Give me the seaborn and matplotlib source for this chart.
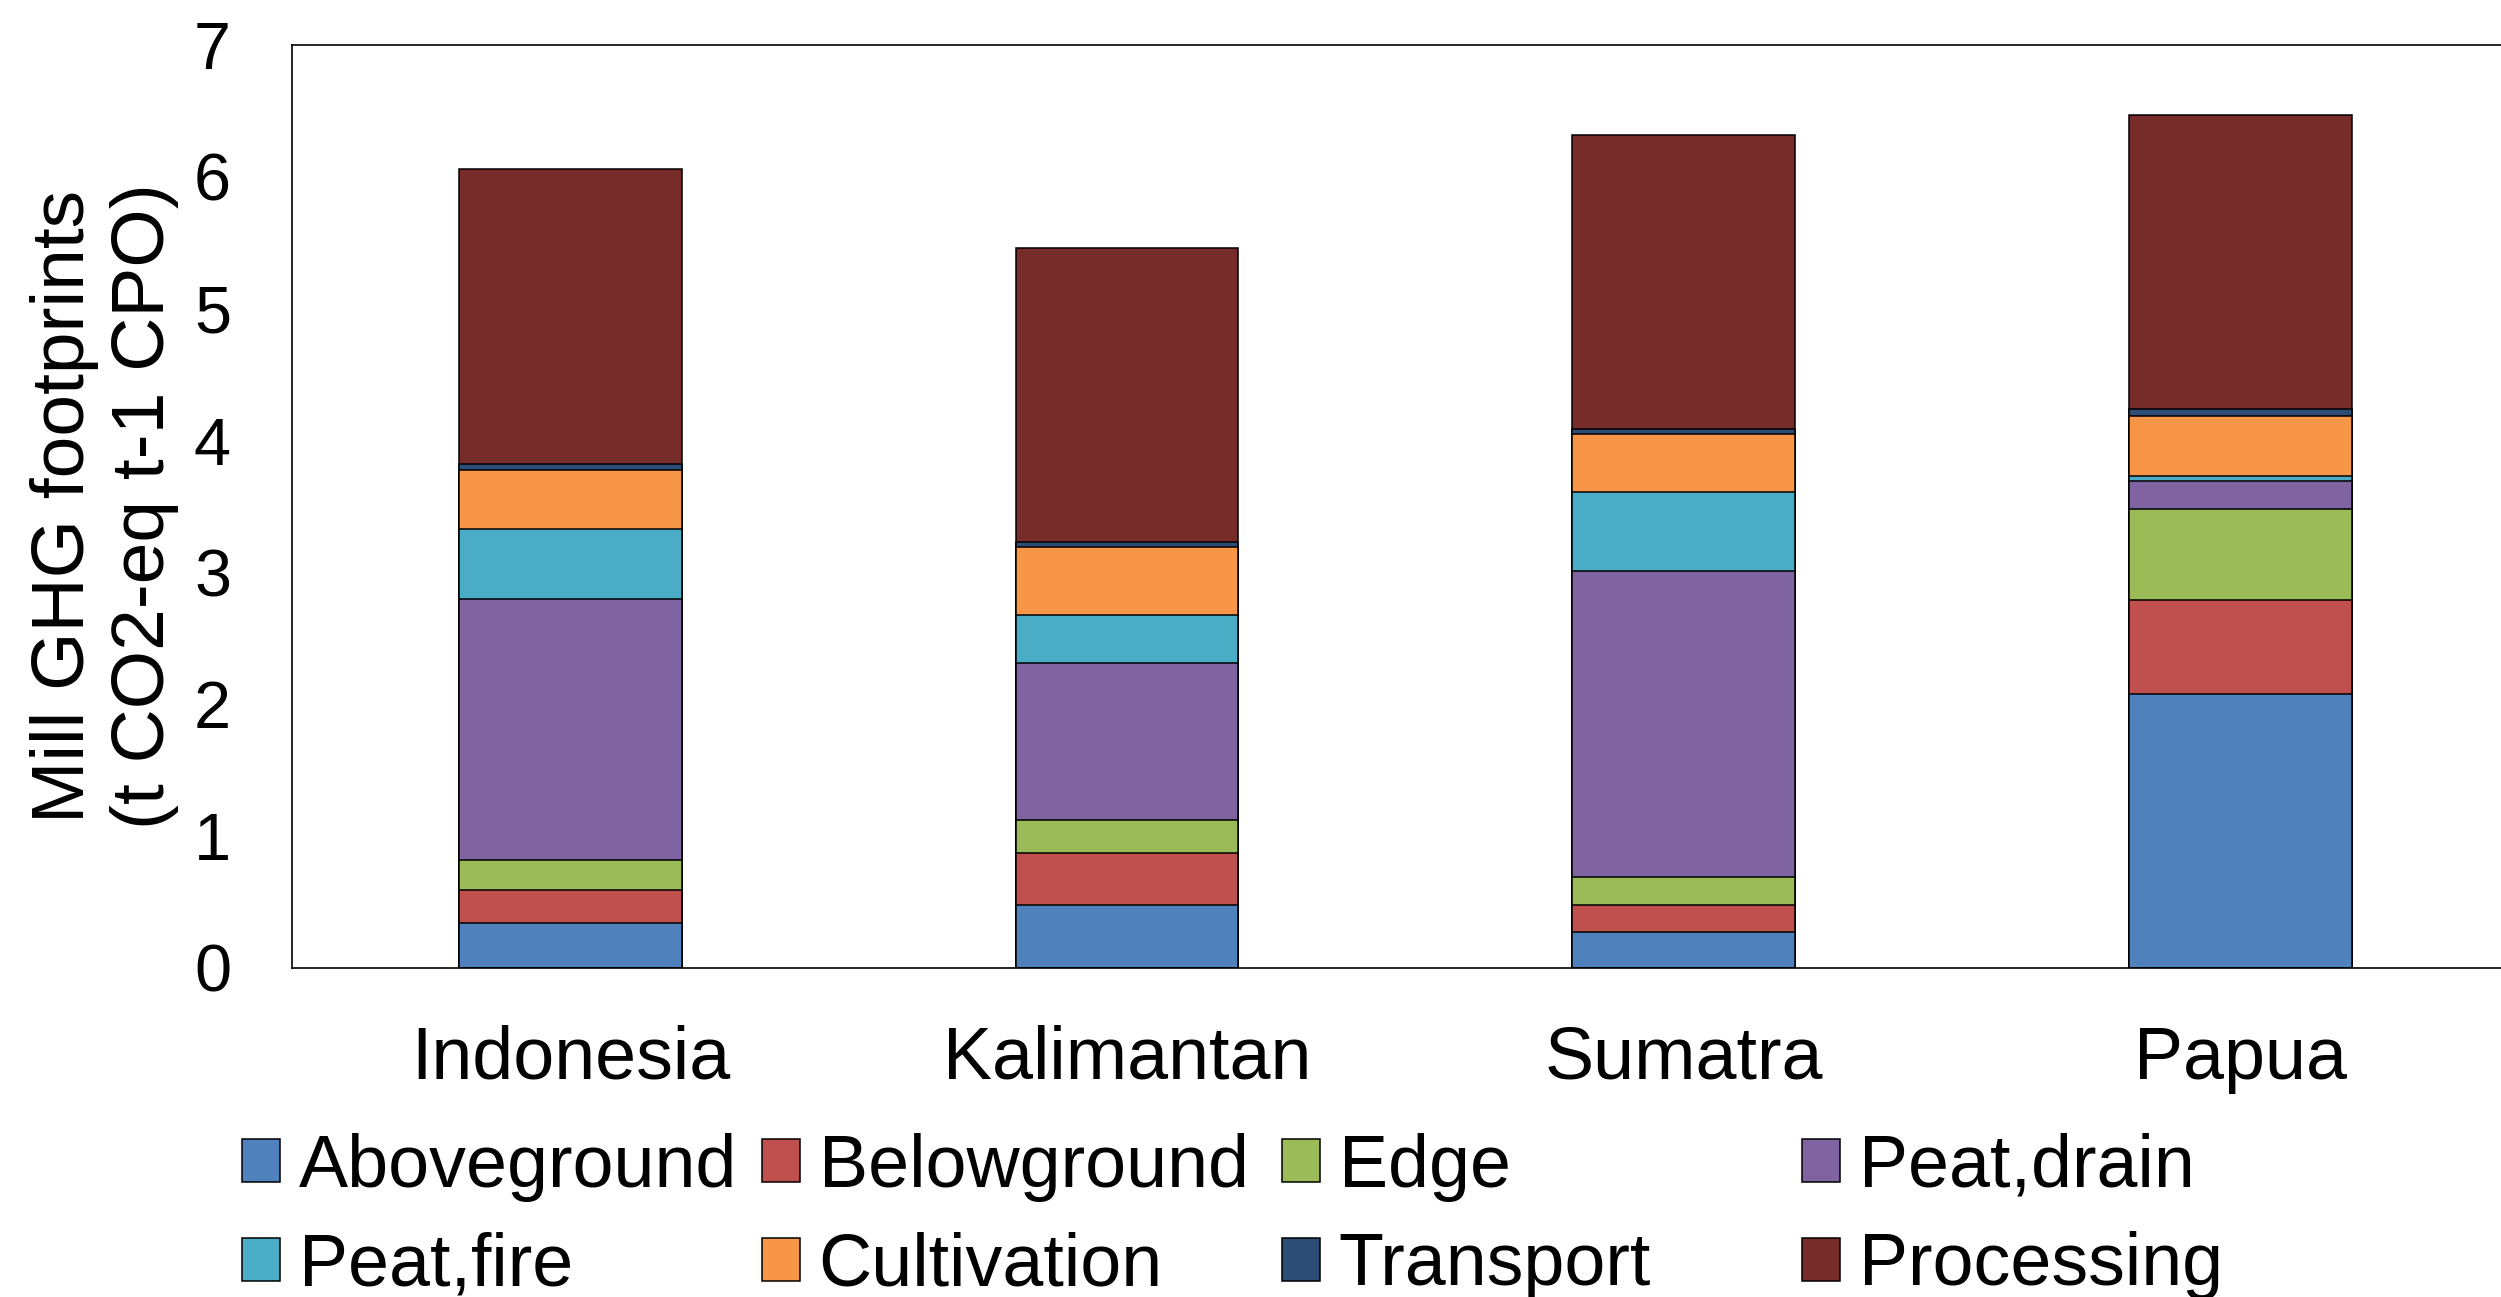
import matplotlib
matplotlib.use('Agg')
import matplotlib.pyplot as plt
from matplotlib.patches import Patch
import seaborn as sns
import numpy as np

# Data (t CO2-eq per t CPO)
regions = ['Indonesia', 'Kalimantan', 'Sumatra', 'Papua']
components = ['Aboveground', 'Belowground', 'Edge', 'Peat,drain',
              'Peat,fire', 'Cultivation', 'Transport', 'Processing']
aboveground = [0.34, 0.48, 0.27, 2.08]
belowground = [0.25, 0.39, 0.21, 0.71]
edge = [0.23, 0.25, 0.21, 0.69]
peat_drain = [1.98, 1.19, 2.32, 0.21]
peat_fire = [0.53, 0.37, 0.60, 0.04]
cultivation = [0.45, 0.51, 0.44, 0.46]
transport = [0.04, 0.04, 0.04, 0.05]
processing = [2.24, 2.23, 2.23, 2.23]
yticks = [0, 1, 2, 3, 4, 5, 6, 7]

colors = ['#4F81BD', '#C0504D', '#9BBB59', '#8064A2',
          '#4BACC6', '#F79646', '#2C4D75', '#772C2A']

sns.set_style('white')
plt.rcParams['font.family'] = ['Liberation Sans', 'DejaVu Sans']
plt.rcParams['text.color'] = 'black'
plt.rcParams['axes.labelcolor'] = 'black'
plt.rcParams['xtick.color'] = 'black'
plt.rcParams['ytick.color'] = 'black'

series = [aboveground, belowground, edge, peat_drain,
          peat_fire, cultivation, transport, processing]
cum = np.cumsum(np.array(series), axis=0)

fig = plt.figure(figsize=(25.01, 12.97), dpi=100)
ax = fig.add_axes([0.1168, 0.2537, 0.8902, 0.7116])

# stacked bars: draw cumulative totals from the top down
for k in range(len(components) - 1, -1, -1):
    sns.barplot(x=regions, y=cum[k], color=colors[k], width=0.4,
                saturation=1, edgecolor='black', linewidth=1.1, ax=ax)

ax.set_xlim(-0.5, 3.5)
ax.set_ylim(0, 7)
ax.set_yticks(yticks)
ax.tick_params(axis='y', length=0, pad=44, labelsize=48)
ax.tick_params(axis='x', length=0, pad=41, labelsize=53)
for s in ax.spines.values():
    s.set_visible(True)
    s.set_color('black')
    s.set_linewidth(1.2)

ax.set_ylabel('Mill GHG footprints\n(t CO2-eq t-1 CPO)', fontsize=54)
ax.yaxis.set_label_coords(-0.051, 0.5)
ax.set_xlabel('')

# legend laid out in 4 evenly spaced columns, 2 rows
col_x = [0.0968, 0.3047, 0.5126, 0.7205]
for c in range(4):
    idx = [c, c + 4]
    handles = [Patch(facecolor=colors[i], edgecolor='black', linewidth=1.1) for i in idx]
    fig.legend(handles, [components[i] for i in idx], loc='center left',
               bbox_to_anchor=(col_x[c], 0.062), frameon=False, fontsize=53,
               handlelength=0.52, handleheight=0.52, handletextpad=0.25,
               labelspacing=0.4, borderpad=0, borderaxespad=0)

fig.savefig('out.png', dpi=100, facecolor='white')
